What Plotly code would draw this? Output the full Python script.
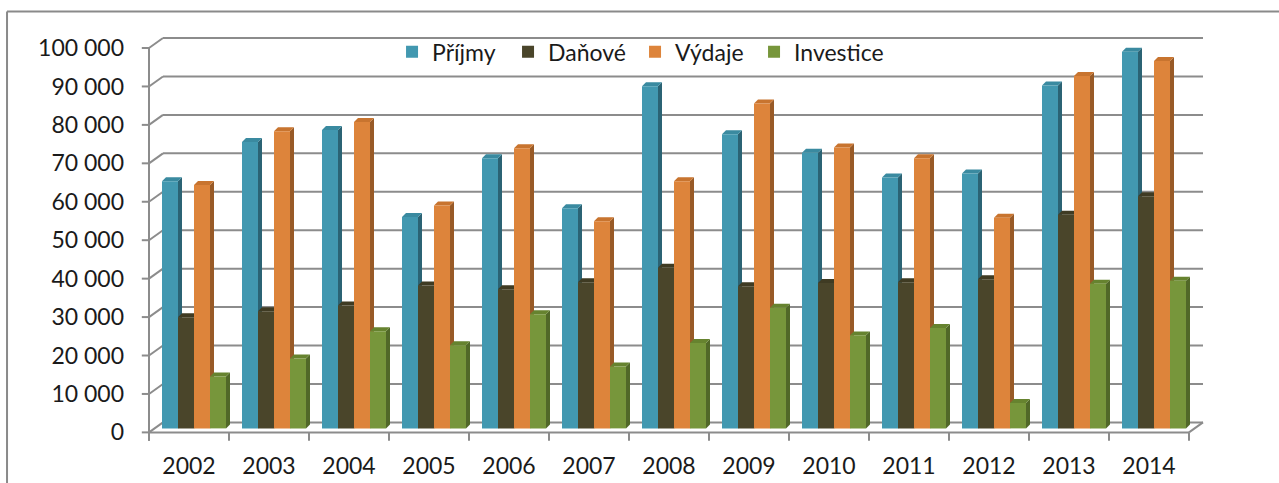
import plotly.graph_objects as go

# ---------------- data ----------------
years = ["2002", "2003", "2004", "2005", "2006", "2007", "2008",
         "2009", "2010", "2011", "2012", "2013", "2014"]
prijmy = [64300, 74500, 77600, 55000, 70300, 57300, 89000,
          76500, 71700, 65300, 66300, 89200, 98000]
danove = [28900, 30500, 32000, 37200, 36200, 38000, 41800,
          37000, 37800, 38000, 38800, 55600, 60400]
vydaje = [63300, 77300, 79700, 58000, 72900, 53900, 64300,
          84500, 73100, 70300, 54800, 91700, 95600]
investice = [13500, 18200, 25300, 21600, 29700, 16100, 22200,
             31400, 24200, 26100, 6600, 37600, 38400]
series_names = ["Příjmy", "Daňové", "Výdaje", "Investice"]
y_ticks = [0, 10000, 20000, 30000, 40000, 50000, 60000, 70000, 80000, 90000, 100000]
y_ticktext = ["0", "10 000", "20 000", "30 000", "40 000", "50 000", "60 000",
              "70 000", "80 000", "90 000", "100 000"]

# ---------------- styles ----------------
front_colors = ["#4298B0", "#4A452A", "#DD843B", "#77963B"]
side_colors = ["#2B6374", "#34301C", "#985A27", "#516828"]
top_colors = ["#3A8AA0", "#3F3B23", "#C8742F", "#66832F"]
legend_widths = [71, 82, 74, 100]
GRID = "#8C8C8C"
FONT = "Lato"
FS = 23

BAR_W = 0.2       # width of one bar (category units)
SHIFT = 0.0625    # mid-depth shift of bars to the right
BASE = 1040       # mid-depth lift of bar bases
DDX, DDY = 0.05, 1040      # bar depth projection
DXW, DYW = 0.175, 2600     # back wall projection

XMIN, XMAX = -0.65, 12.7
YMIN, YMAX = -2500, 103125

x_idx = list(range(len(years)))
all_vals = [prijmy, danove, vydaje, investice]

fig = go.Figure()

side_traces, top_traces, bar_traces = [], [], []
for i, vals in enumerate(all_vals):
    off = -0.4 + i * BAR_W + SHIFT
    sx, sy, tx, ty = [], [], [], []
    for xi, v in zip(x_idx, vals):
        xl = xi + off
        xr = xl + BAR_W
        yt = BASE + v
        sx += [xr, xr + DDX, xr + DDX, xr, xr, None]
        sy += [BASE, BASE + DDY, yt + DDY, yt, BASE, None]
        tx += [xl, xl + DDX, xr + DDX, xr, xl, None]
        ty += [yt, yt + DDY, yt + DDY, yt, yt, None]
    side_traces.append(go.Scatter(x=sx, y=sy, fill="toself", fillcolor=side_colors[i],
                                  mode="lines", line=dict(width=0), hoverinfo="skip",
                                  showlegend=False, zorder=0))
    top_traces.append(go.Scatter(x=tx, y=ty, fill="toself", fillcolor=top_colors[i],
                                 mode="lines", line=dict(width=0), hoverinfo="skip",
                                 showlegend=False, zorder=0))
    bar_traces.append(go.Bar(x=x_idx, y=vals, base=BASE, offset=off, width=BAR_W,
                             name=series_names[i], marker_color=front_colors[i],
                             marker_line_width=0, zorder=1, legendwidth=legend_widths[i]))

for t in side_traces + top_traces + bar_traces:
    fig.add_trace(t)

shapes = []
line_style = dict(color=GRID, width=2)
for v in y_ticks:
    # back wall gridlines
    shapes.append(dict(type="line", xref="x", yref="y", x0=-0.5 + DXW, x1=len(years) - 0.5 + DXW,
                       y0=v + DYW, y1=v + DYW, line=line_style, layer="below"))
    # left side-wall diagonals
    shapes.append(dict(type="line", xref="x", yref="y", x0=-0.5, x1=-0.5 + DXW,
                       y0=v, y1=v + DYW, line=line_style, layer="below"))
    # y tick marks
    shapes.append(dict(type="line", xref="x", yref="y", x0=-0.5 - 0.09, x1=-0.5,
                       y0=v, y1=v, line=line_style, layer="below"))
# front axes
shapes.append(dict(type="line", xref="x", yref="y", x0=-0.5, x1=-0.5, y0=-2200, y1=y_ticks[-1],
                   line=line_style, layer="below"))
shapes.append(dict(type="line", xref="x", yref="y", x0=-0.5, x1=len(years) - 0.5, y0=0, y1=0,
                   line=line_style, layer="below"))
# right floor diagonal
shapes.append(dict(type="line", xref="x", yref="y", x0=len(years) - 0.5, x1=len(years) - 0.5 + DXW,
                   y0=0, y1=DYW, line=line_style, layer="below"))
# category boundary tick marks
for k in range(len(years) + 1):
    xb = k - 0.5
    shapes.append(dict(type="line", xref="x", yref="y", x0=xb, x1=xb, y0=0, y1=-2200,
                       line=line_style, layer="below"))
# outer chart frame (top and left edges)
shapes.append(dict(type="line", xref="paper", yref="paper", x0=-0.1217, x1=1.08,
                   y0=1.0601, y1=1.0601, line=dict(color="#8A8A8A", width=2)))
shapes.append(dict(type="line", xref="paper", yref="paper", x0=-0.1217, x1=-0.1217,
                   y0=1.0601, y1=-0.2, line=dict(color="#8A8A8A", width=2)))

fig.update_layout(
    width=1279, height=483,
    margin=dict(l=137, r=74, t=36, b=41, autoexpand=False),
    paper_bgcolor="white", plot_bgcolor="white",
    barmode="overlay",
    font=dict(family=FONT, size=FS, color="#1A1A1A"),
    showlegend=True,
    legend=dict(orientation="h", x=0.2388, xanchor="left", y=0.961, yanchor="middle",
                bgcolor="rgba(0,0,0,0)", font=dict(size=FS, family=FONT), traceorder="normal"),
    shapes=shapes,
    xaxis=dict(range=[XMIN, XMAX], tickvals=x_idx, ticktext=years, ticks="",
               showgrid=False, zeroline=False, showline=False, fixedrange=True,
               automargin=False, tickfont=dict(size=FS), ticklabelstandoff=8),
    yaxis=dict(range=[YMIN, YMAX], tickvals=y_ticks, ticktext=y_ticktext, ticks="",
               showgrid=False, zeroline=False, showline=False, fixedrange=True,
               automargin=False, tickfont=dict(size=FS), ticklabelstandoff=12),
)

fig.write_html("out.html", config={"displayModeBar": False},
               post_script="document.body.style.margin='0';")
